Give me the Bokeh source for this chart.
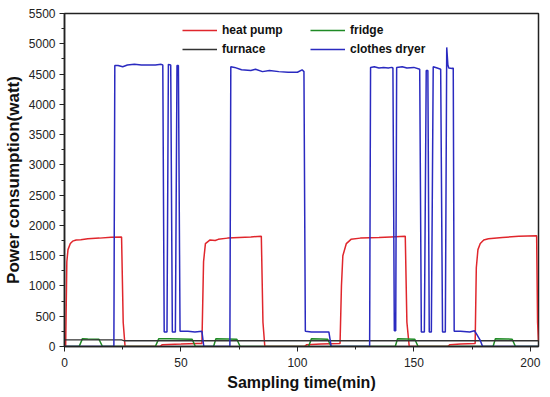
from bokeh.plotting import figure
from bokeh.models import Range1d, FixedTicker, Legend, LegendItem
from bokeh.embed import file_html
from bokeh.resources import INLINE

# ---- data ----
hp_x = [0, 0.5, 1.0, 1.5, 2.5, 3.5, 5, 7, 10, 15, 20, 24.5, 25.2, 26,
        41, 42, 50, 57, 59.0, 59.7, 60.5, 62.5, 64.7, 66, 70, 75, 80, 84.5, 85.2, 86,
        103, 104, 110, 118.3, 118.9, 119.5, 121, 123, 127, 135, 140, 146.3, 147, 148,
        164.5, 165.5, 170, 176.3, 176.8, 177.5, 178.5, 180, 182, 188, 195, 202.7, 203.1, 203.5]
hp_y = [0, 0, 1400, 1600, 1700, 1740, 1760, 1765, 1780, 1790, 1805, 1810, 400, 0,
        0, 30, 40, 50, 50, 1400, 1700, 1760, 1750, 1770, 1790, 1800, 1810, 1820, 400, 0,
        0, 30, 40, 50, 1000, 1500, 1700, 1770, 1790, 1800, 1810, 1820, 400, 0,
        0, 30, 40, 50, 1300, 1600, 1700, 1760, 1780, 1800, 1820, 1830, 400, 100]

fr_x = [0, 6.3, 7.7, 10, 14.8, 16.3, 39, 40.5, 45, 54.8, 56.2, 64, 65, 70, 74, 75.4,
        104.8, 106, 110, 113, 114.5, 142, 143, 147, 150.4, 151.8, 184, 185, 190, 192.2, 193.6, 203.5]
fr_y = [0, 0, 130, 125, 120, 0, 0, 130, 128, 120, 0, 0, 130, 125, 120, 0,
        0, 130, 125, 120, 0, 0, 130, 125, 120, 0, 0, 130, 125, 120, 0, 0]

fu_x = [0, 24.5, 25.5, 203.5]
fu_y = [110, 110, 95, 95]

cd_x = [0, 21.2, 21.6, 23, 25, 27, 30, 33, 36, 39, 41.5, 42.2, 42.8, 44, 44.6, 45.6, 46.3, 47.6,
        48.3, 48.9, 49.6, 53, 56, 59, 59.8, 71, 71.4, 73, 76, 80, 82, 85, 88, 92, 96, 100, 102, 102.8,
        103.4, 106, 110, 113.5, 114.5, 131, 131.4, 133, 135, 137, 139, 140.5, 141.0, 141.6, 142.2,
        142.6, 145, 147, 150, 152.5, 153.2, 154.5, 155.3, 156.0, 156.6, 157.5, 158.3, 160, 161.5,
        162.3, 163.5, 164.1, 164.6, 165.0, 166.5, 166.9, 167.3, 170, 174, 176, 177, 178.5, 179.5, 203.5]
cd_y = [0, 0, 4640, 4640, 4620, 4650, 4660, 4650, 4650, 4650, 4660, 4650, 240, 240, 4660, 4650, 240, 240,
        4640, 4640, 250, 250, 240, 250, 0, 0, 4620, 4610, 4570, 4560, 4580, 4540, 4560, 4540, 4530, 4530, 4570, 4540,
        250, 240, 240, 240, 0, 0, 4610, 4620, 4600, 4610, 4600, 4610, 4600, 260, 260,
        4610, 4620, 4600, 4610, 4580, 240, 240, 4560, 4560, 240, 240, 4620, 4600, 4580,
        240, 240, 4940, 4650, 4600, 4590, 4600, 250, 250, 240, 260, 200, 100, 0, 0]

x_ticks = [0, 50, 100, 150, 200]
x_minor = [25, 75, 125, 175]
y_ticks = [0, 500, 1000, 1500, 2000, 2500, 3000, 3500, 4000, 4500, 5000, 5500]
y_minor = [250, 750, 1250, 1750, 2250, 2750, 3250, 3750, 4250, 4750, 5250]

names = ["heat pump", "fridge", "furnace", "clothes dryer"]
colors = ["#e0262c", "#1f8a25", "#333333", "#2a2ac0"]

FONT = "Liberation Sans"

p = figure(width=550, height=397, output_backend="svg", toolbar_location=None,
           x_range=Range1d(0, 203.5), y_range=Range1d(0, 5500),
           min_border_left=62, min_border_right=12, min_border_top=13, min_border_bottom=51)

r_hp = p.line(hp_x, hp_y, color=colors[0], line_width=1.5)
r_fr = p.line(fr_x, fr_y, color=colors[1], line_width=1.5)
r_fu = p.line(fu_x, fu_y, color=colors[2], line_width=1.3)
r_cd = p.line(cd_x, cd_y, color=colors[3], line_width=1.5)

p.xgrid.visible = False
p.ygrid.visible = False
p.outline_line_color = "#222222"
p.outline_line_width = 1.5

p.xaxis.ticker = FixedTicker(ticks=x_ticks, minor_ticks=x_minor)
p.yaxis.ticker = FixedTicker(ticks=y_ticks, minor_ticks=y_minor)
for ax in (p.xaxis[0], p.yaxis[0]):
    ax.axis_line_color = "#222222"
    ax.axis_line_width = 1.5
    ax.major_tick_in = 0
    ax.major_tick_out = 5
    ax.minor_tick_in = 0
    ax.minor_tick_out = 3
    ax.major_tick_line_color = "#222222"
    ax.minor_tick_line_color = "#222222"
    ax.major_label_text_font = FONT
    ax.major_label_text_font_size = "12px"
    ax.major_label_text_color = "#222222"
    ax.axis_label_text_font = FONT
    ax.axis_label_text_font_style = "bold"
    ax.axis_label_text_color = "#111111"

p.xaxis.axis_label = "Sampling time(min)"
p.xaxis.axis_label_text_font_size = "16px"
p.xaxis.major_label_standoff = 6
p.xaxis.axis_label_standoff = 4
p.yaxis.axis_label = "Power consumption(watt)"
p.yaxis.axis_label_text_font_size = "17px"
p.yaxis.major_label_standoff = 4
p.yaxis.axis_label_standoff = 3

def mk_legend(items, loc):
    lg = Legend(items=items, location=loc, orientation="horizontal",
                padding=0, margin=0, spacing=5, label_width=83,
                glyph_width=35, glyph_height=16, label_standoff=5,
                border_line_alpha=0, background_fill_alpha=0,
                label_text_font=FONT, label_text_font_style="bold",
                label_text_font_size="12px", label_text_color="#111111")
    return lg

lg1 = mk_legend([LegendItem(label=names[0], renderers=[r_hp]),
                 LegendItem(label=names[1], renderers=[r_fr])], (118, 308))
lg2 = mk_legend([LegendItem(label=names[2], renderers=[r_fu]),
                 LegendItem(label=names[3], renderers=[r_cd])], (118, 289))
p.add_layout(lg1, "center")
p.add_layout(lg2, "center")

open("out.html", "w").write(file_html(p, INLINE))
